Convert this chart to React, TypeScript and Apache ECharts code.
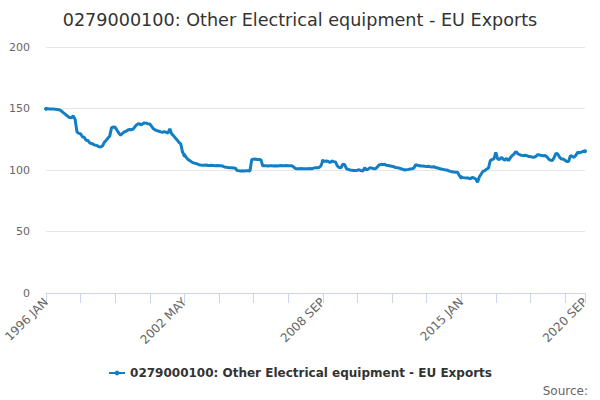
import React, { useEffect, useRef } from "react";
import * as echarts from "echarts";

const TITLE = "0279000100: Other Electrical equipment - EU Exports";
const SERIES_NAME = "0279000100: Other Electrical equipment - EU Exports";
const YEARS = [1996, 1997, 1998, 1999, 2000, 2001, 2002, 2003, 2004, 2005, 2006, 2007, 2008, 2009, 2010, 2011, 2012, 2013, 2014, 2015, 2016, 2017, 2018, 2019, 2020];
const MONTHS = ["JAN", "FEB", "MAR", "APR", "MAY", "JUN", "JUL", "AUG", "SEP", "OCT", "NOV", "DEC"];
const LAST_MONTH_2020 = 9;
const Y_TICKS = [0, 50, 100, 150, 200];

const values1996_2001 = [
  149.7, 149.8, 149.6, 149.5, 149.5, 149.4, 149.2, 149.0, 148.5, 147.2, 146.0, 144.8,
  143.5, 142.6, 142.4, 144.0, 141.0, 131.0, 129.8, 129.5, 127.0, 126.5, 124.2, 124.0,
  122.0, 121.6, 120.8, 120.2, 119.8, 119.0, 118.7, 119.5, 122.5, 124.0, 126.0, 127.5,
  134.5, 135.0, 134.8, 132.3, 130.0, 128.2, 129.8, 131.0, 131.5, 132.5, 133.0, 132.8,
  133.5, 135.5, 137.0, 137.8, 136.8, 137.4, 138.3, 138.1, 137.5, 137.4, 135.5, 133.5,
  132.5, 132.0, 131.5, 131.0, 130.7, 131.2, 130.7, 130.0, 133.5, 129.4, 128.0, 126.1,
];
const values2002_2007 = [
  124.5, 122.5, 121.2, 114.4, 112.0, 110.3, 108.5, 107.6, 106.5, 105.8, 105.4, 105.0,
  104.3, 104.0, 103.8, 103.8, 104.0, 103.7, 103.6, 103.8, 103.7, 103.5, 103.6, 103.5,
  103.4, 103.2, 102.4, 102.2, 102.0, 101.9, 101.8, 101.6, 101.4, 99.5, 99.3, 99.2,
  99.3, 99.2, 99.4, 99.3, 99.2, 108.5, 108.7, 108.9, 108.6, 108.5, 108.4, 103.5,
  103.4, 103.5, 103.3, 103.4, 103.5, 103.3, 103.4, 103.3, 103.5, 103.6, 103.4, 103.5,
  103.6, 103.5, 103.4, 103.5, 102.5, 101.2, 101.0, 101.1, 101.2, 101.0, 101.1, 101.0,
];
const values2008_2013 = [
  101.1, 101.2, 101.0, 101.5, 101.9, 101.8, 102.0, 103.5, 107.3, 107.0, 107.3, 107.0,
  106.0, 107.3, 106.8, 106.5, 103.3, 102.0, 101.9, 104.6, 104.5, 101.0, 100.5, 100.0,
  99.8, 99.6, 99.5, 99.8, 100.2, 99.5, 99.2, 101.9, 100.0, 100.8, 101.9, 101.5,
  101.2, 101.0, 102.5, 104.2, 104.6, 104.5, 104.6, 103.8, 103.6, 103.3, 103.0, 102.7,
  102.0, 101.9, 101.5, 101.0, 100.5, 100.0, 100.3, 100.5, 100.8, 101.0, 101.5, 104.4,
  103.8, 103.5, 103.2, 103.3, 103.0, 102.8, 103.0, 102.7, 102.5, 102.7, 102.0, 101.6,
];
const values2014_2020 = [
  101.2, 100.8, 100.5, 100.2, 100.0, 99.5, 98.9, 98.6, 98.3, 98.1, 98.2, 95.4,
  94.0, 93.8, 93.6, 93.5, 93.5, 92.7, 94.0, 93.5, 92.7, 90.0, 94.5, 96.7,
  99.0, 99.5, 100.8, 101.5, 107.6, 108.5, 109.0, 114.4, 109.0, 108.5, 110.3, 109.0,
  108.0, 109.5, 107.6, 110.0, 111.7, 113.0, 115.0, 113.5, 112.5, 112.0, 111.7, 112.0,
  111.7, 111.0, 110.9, 110.5, 110.3, 111.0, 112.5, 112.3, 111.7, 111.5, 111.7, 110.9,
  109.0, 108.0, 107.6, 110.0, 113.6, 113.0, 110.5, 109.0, 109.0, 108.0, 107.0, 107.0,
  111.7, 111.0, 110.3, 112.0, 114.4, 114.0, 114.5, 115.2, 115.2,
];

const categories: string[] = [];
YEARS.forEach((y) => {
  const n = y === 2020 ? LAST_MONTH_2020 : 12;
  for (let m = 0; m < n; m++) categories.push(`${y} ${MONTHS[m]}`);
});
const values = [...values1996_2001, ...values2002_2007, ...values2008_2013, ...values2014_2020];

const FONT = "DejaVu Sans, sans-serif";
const LINE_COLOR = "#127ec3";

export default function App() {
  const ref = useRef<HTMLDivElement>(null);
  useEffect(() => {
    if (!ref.current) return;
    const chart = echarts.init(ref.current, undefined, { renderer: "svg" });
    const last = categories.length - 1;
    chart.setOption({
      animation: false,
      textStyle: { fontFamily: FONT },
      title: {
        text: TITLE,
        left: "center",
        top: 6,
        textStyle: { fontFamily: FONT, fontSize: 17.6, fontWeight: "normal", color: "#333333" },
      },
      grid: { left: 46, right: 15, top: 47, bottom: 107, containLabel: false },
      legend: {
        bottom: 16,
        left: "center",
        itemWidth: 16,
        itemHeight: 6,
        itemGap: 10,
        textStyle: { fontFamily: FONT, fontSize: 12, fontWeight: "bold", color: "#333333" },
        data: [SERIES_NAME],
      },
      xAxis: {
        type: "category",
        data: categories,
        boundaryGap: false,
        axisLine: { lineStyle: { color: "#ccd6eb" } },
        axisTick: {
          length: 10,
          lineStyle: { color: "#ccd6eb" },
          interval: (i: number) => i % 19 === 0 || i === last,
        },
        axisLabel: {
          rotate: 45,
          color: "#666666",
          fontSize: 12,
          fontFamily: FONT,
          margin: 7,
          interval: (i: number) => i % 76 === 0 || i === last,
        },
        splitLine: { show: false },
      },
      yAxis: {
        type: "value",
        min: Y_TICKS[0],
        max: Y_TICKS[Y_TICKS.length - 1],
        interval: 50,
        axisLine: { show: false },
        axisTick: { show: false },
        axisLabel: { color: "#666666", fontSize: 11, fontFamily: FONT, margin: 16 },
        splitLine: { lineStyle: { color: "#e6e6e6" } },
      },
      series: [
        {
          name: SERIES_NAME,
          type: "line",
          data: values,
          color: LINE_COLOR,
          symbol: "circle",
          symbolSize: 4,
          showSymbol: true,
          lineStyle: { width: 3, color: LINE_COLOR },
          itemStyle: { color: LINE_COLOR },
        },
      ],
      graphic: [
        {
          type: "text",
          right: 12,
          bottom: 3,
          style: { text: "Source:", fill: "#666666", fontSize: 12, fontFamily: FONT },
        },
      ],
    });
    return () => chart.dispose();
  }, []);
  return (
    <div
      ref={ref}
      style={{ position: "fixed", left: 0, top: 0, width: 600, height: 400, background: "#ffffff" }}
    />
  );
}
